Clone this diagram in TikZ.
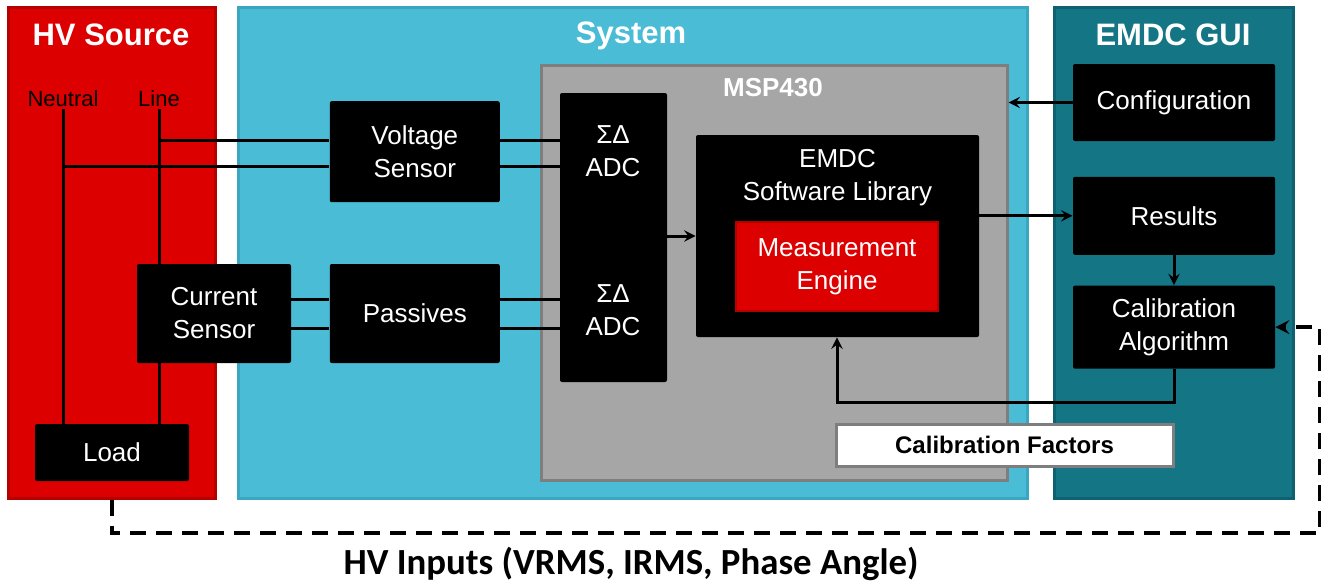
\documentclass[tikz,border=0pt]{standalone}
\usepackage{fontspec}
\setmainfont{Liberation Sans}
\newfontfamily\carlito{Carlito}
\usepackage{tikz}
\usetikzlibrary{positioning}

\definecolor{hvrod}{HTML}{DD0000}
\definecolor{hvrodkant}{HTML}{B50000}
\definecolor{sysbla}{HTML}{4BBCD6}
\definecolor{sysblakant}{HTML}{3BA6BF}
\definecolor{guiteal}{HTML}{147584}
\definecolor{guitealkant}{HTML}{0E6170}
\definecolor{mspgra}{HTML}{A6A6A6}
\definecolor{mspgrakant}{HTML}{7E7E7E}

\begin{document}
\begin{tikzpicture}[x=0.5pt, y=-0.5pt, node distance=15pt, auto]

\tikzstyle{ramme}=[rectangle, line width=1.5pt, inner sep=0pt, minimum height=245.5pt]
\tikzstyle{tittel}=[text=white, font=\fontsize{15.5}{18}\selectfont\bfseries]
\tikzstyle{blokk}=[rectangle, rounded corners=1pt, fill=black, text=white, inner sep=0pt, align=center, font=\fontsize{13}{16.5}\selectfont]
\tikzstyle{leder}=[line width=1.5pt]
\tikzstyle{pilen}=[line width=1.5pt, -stealth]
\tikzstyle{stiplet}=[line width=2pt, dash pattern=on 8pt off 5pt, -stealth]

\useasboundingbox (0,0) rectangle (1321,585);

% the three areas
\node[ramme, fill=hvrod, draw=hvrodkant, minimum width=103.5pt] (hvsrc) at (111.5,252.5) {};
\node[ramme, fill=sysbla, draw=sysblakant, minimum width=394.5pt] (sys) at (632.5,252.5) {};
\node[ramme, fill=guiteal, draw=guitealkant, minimum width=119.5pt] (gui) at (1173.5,252.5) {};
\node[rectangle, fill=mspgra, draw=mspgrakant, line width=1.5pt, minimum width=233pt, minimum height=207.5pt] (msp) at (774,272.5) {};

\node[tittel] (hvtitle) at (111,35) {HV Source};
\node[tittel] (systitle) at (631,36) {System};
\node[tittel] (guititle) at (1173,35) {EMDC GUI};
\node[text=white, font=\fontsize{13}{15}\selectfont\bfseries] (msptitle) at (773,88) {MSP430};

\node[font=\fontsize{11}{13}\selectfont, inner sep=1pt] (neutral) at (63,99) {Neutral};
\node[font=\fontsize{11}{13}\selectfont, inner sep=1pt] (line) at (159,99) {Line};

% blocks
\node[blokk, minimum width=77pt, minimum height=49.5pt] (csense) at (214,313.5) {Current\\Sensor};
\node[blokk, minimum width=85pt, minimum height=49.5pt, right=19pt of csense] (passives) {Passives};
\node[blokk, minimum width=85pt, minimum height=50.5pt, above=30.5pt of passives] (vsense) {Voltage\\Sensor};
\node[blokk, minimum width=77pt, minimum height=28.5pt] (load) at (112,452.5) {Load};

\node[blokk, minimum width=53.5pt, minimum height=144.5pt] (adc) at (613.5,237.5) {};
\node[blokk] (adc1) at (613,151) {ΣΔ\\ADC};
\node[blokk] (adc2) at (613,310) {ΣΔ\\ADC};

\node[blokk, minimum width=141.5pt, minimum height=101pt] (lib) at (837.5,236) {};
\node[blokk, below=7pt of lib.north] (libtext) {EMDC\\Software Library};
\node[blokk, rounded corners=0pt, fill=hvrod, draw=hvrodkant, line width=0.75pt, minimum width=101pt, minimum height=44.5pt] (engine) at (837,266.5) {Measurement\\Engine};

\node[blokk, minimum width=101pt, minimum height=38.5pt] (config) at (1174,102.5) {Configuration};
\node[blokk, minimum width=101pt, minimum height=39pt, below=17.5pt of config] (results) {Results};
\node[blokk, minimum width=101pt, minimum height=41.5pt, below=15pt of results] (calalg) {Calibration\\Algorithm};

\node[rectangle, fill=white, draw=mspgrakant, line width=1.5pt, minimum width=168.5pt, minimum height=21pt, font=\fontsize{12}{14}\selectfont\bfseries] (calfac) at (1004.5,445) {Calibration Factors};

\node[font=\carlito\fontsize{18.4}{21}\selectfont\bfseries] (hvin) at (631,564) {HV Inputs (VRMS, IRMS, Phase Angle)};

% wires
\coordinate (tapL) at (159,140);
\coordinate (tapN) at (64,166);
\coordinate (ia) at (291,299);
\coordinate (ib) at (291,328);
\coordinate (fb) at (837,402);
\coordinate (dhjorne) at (1320,533);

\draw[leder] (neutral.south) -- (neutral.south |- load.north);
\draw[leder] (line.south) -- (line.south |- csense.north);
\draw[leder] (line.south |- csense.south) -- (line.south |- load.north);
\draw[leder] (tapL) -- (tapL -| vsense.west);
\draw[leder] (tapN) -- (tapN -| vsense.west);
\draw[leder] (vsense.east |- tapL) -- (tapL -| adc.west);
\draw[leder] (vsense.east |- tapN) -- (tapN -| adc.west);
\draw[leder] (ia) -- (ia -| passives.west);
\draw[leder] (ib) -- (ib -| passives.west);
\draw[leder] (passives.east |- ia) -- (ia -| adc.west);
\draw[leder] (passives.east |- ib) -- (ib -| adc.west);

\draw[pilen] (adc.east |- lib.west) -- (lib.west);
\draw[pilen] (config.west) -- (config.west -| msp.east);
\draw[pilen] (lib.east |- results.west) -- (results.west);
\draw[pilen] (results.south) -- (calalg.north);
\draw[pilen] (calalg.south) |- (fb) -- (fb |- lib.south);

\draw[stiplet] (hvsrc.south) |- (dhjorne) |- (calalg.east);

\end{tikzpicture}
\end{document}
